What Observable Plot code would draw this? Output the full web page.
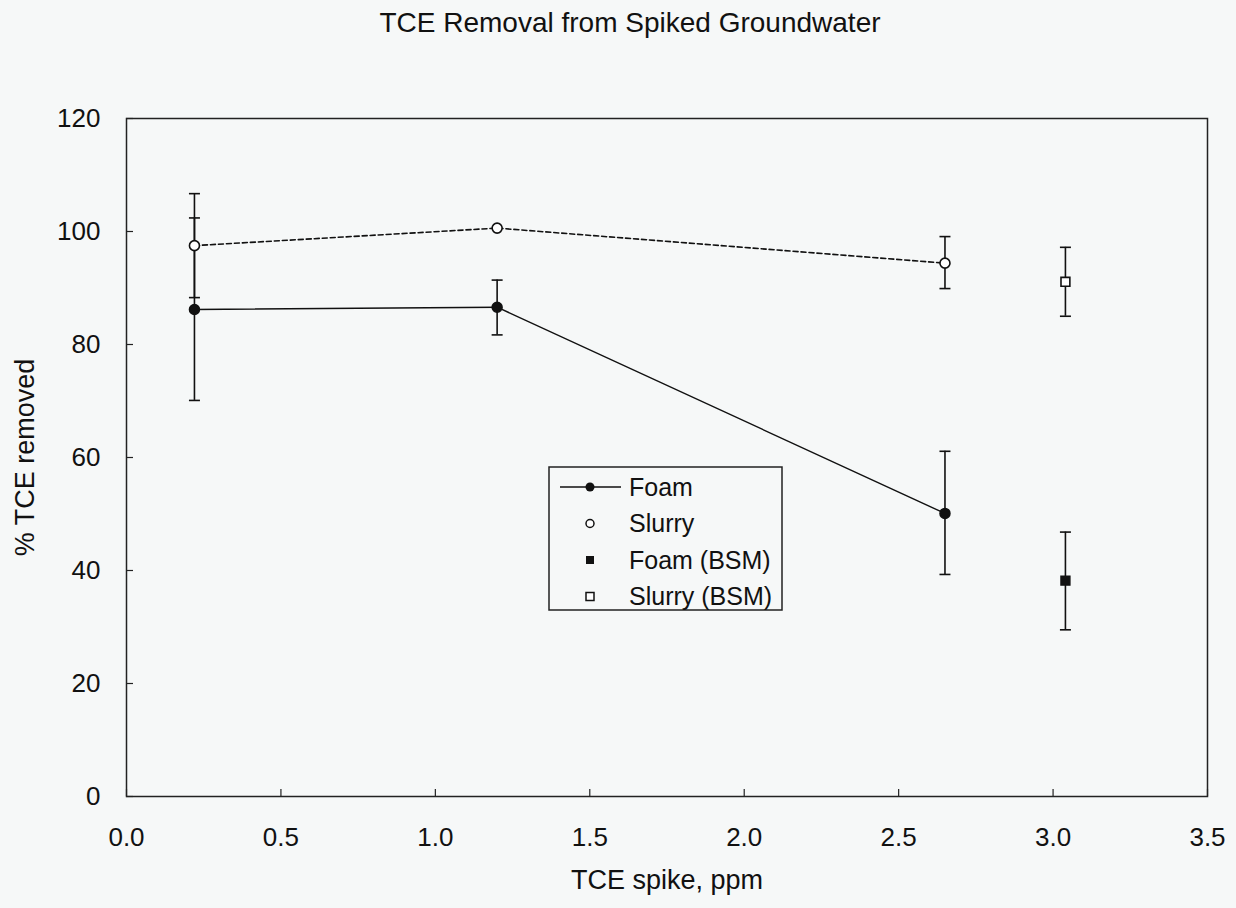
<!DOCTYPE html>
<html><head><meta charset="utf-8">
<script src="https://cdn.jsdelivr.net/npm/d3@7"></script>
<script src="https://cdn.jsdelivr.net/npm/@observablehq/plot@0.6"></script>
<style>
body{margin:0;background:#f6f8f8;font-family:"Liberation Sans",Arial,sans-serif;}
#wrap{position:relative;width:1236px;height:908px;overflow:hidden;}
#title{position:absolute;left:630px;top:9px;transform:translateX(-50%);white-space:nowrap;font-size:28px;line-height:28px;color:#111;}
#legend{position:absolute;left:548px;top:466px;}
</style></head>
<body>
<div id="wrap"><div id="title">TCE Removal from Spiked Groundwater</div><div id="chart"></div><div id="legend"></div></div>
<script>
// ---- data ----
const xLabel = "TCE spike, ppm";
const yLabel = "% TCE removed";
const xTicks = [0, 0.5, 1, 1.5, 2, 2.5, 3, 3.5];
const yTicks = [0, 20, 40, 60, 80, 100, 120];

const foamX = [0.22, 1.2, 2.65];
const foamY = [86.2, 86.6, 50.1];
const foamLo = [70.1, 81.7, 39.3];
const foamHi = [102.4, 91.4, 61.1];

const slurryX = [0.22, 1.2, 2.65];
const slurryY = [97.5, 100.6, 94.4];
const slurryLo = [88.3, null, 89.9];
const slurryHi = [106.7, null, 99.1];

const foamBsmX = [3.04];
const foamBsmY = [38.2];
const foamBsmLo = [29.5];
const foamBsmHi = [46.8];

const slurryBsmX = [3.04];
const slurryBsmY = [91.1];
const slurryBsmLo = [85.0];
const slurryBsmHi = [97.2];

const legendLabels = ["Foam", "Slurry", "Foam (BSM)", "Slurry (BSM)"];

// ---- build tables ----
const mk = (xs, ys, lo, hi) => xs.map((x, i) => ({x, y: ys[i], lo: lo[i], hi: hi[i]}));
const foam = mk(foamX, foamY, foamLo, foamHi);
const slurry = mk(slurryX, slurryY, slurryLo, slurryHi);
const foamBsm = mk(foamBsmX, foamBsmY, foamBsmLo, foamBsmHi);
const slurryBsm = mk(slurryBsmX, slurryBsmY, slurryBsmLo, slurryBsmHi);
const allErr = [...foam, ...slurry, ...foamBsm, ...slurryBsm].filter(d => d.lo != null);

const capSymbol = {draw(ctx, size) { const r = Math.sqrt(size / Math.PI); ctx.moveTo(-r, 0); ctx.lineTo(r, 0); }};

const W = 1236, H = 908, mL = 126, mR = 29, mT = 118, mB = 112;
const pw = W - mL - mR, ph = H - mT - mB;
const ink = "#111";

const chart = Plot.plot({
  width: W, height: H,
  marginLeft: mL, marginRight: mR, marginTop: mT, marginBottom: mB,
  style: {background: "transparent", fontFamily: "'Liberation Sans', Arial, sans-serif", color: ink},
  x: {domain: [0, 3.5]},
  y: {domain: [0, 120]},
  marks: [
    Plot.frame({stroke: "#222", strokeWidth: 1.5}),
    Plot.axisX({ticks: xTicks, tickFormat: d => d.toFixed(1), tickSize: 0, tickPadding: 31, fontSize: 26, label: null, fill: ink}),
    Plot.axisY({ticks: yTicks, tickFormat: d => String(d), tickSize: 0, tickPadding: 26, fontSize: 26, label: null, fill: ink}),
    Plot.tickY(yTicks, {insetRight: pw - 7, stroke: "#222", strokeWidth: 1.2}),
    Plot.tickX(xTicks, {insetTop: ph - 7, stroke: "#222", strokeWidth: 1.2}),
    Plot.text([xLabel], {frameAnchor: "bottom", dy: 92, fontSize: 27, fill: ink}),
    Plot.text([yLabel], {frameAnchor: "left", textAnchor: "middle", rotate: -90, dx: -101, fontSize: 27, fill: ink}),
    // error bars
    Plot.ruleX(allErr, {x: "x", y1: "lo", y2: "hi", stroke: ink, strokeWidth: 1.6}),
    Plot.dot(allErr, {x: "x", y: "hi", symbol: capSymbol, r: 5.5, stroke: ink, strokeWidth: 1.6}),
    Plot.dot(allErr, {x: "x", y: "lo", symbol: capSymbol, r: 5.5, stroke: ink, strokeWidth: 1.6}),
    // lines
    Plot.line(foam, {x: "x", y: "y", stroke: ink, strokeWidth: 1.4}),
    Plot.line(slurry, {x: "x", y: "y", stroke: ink, strokeWidth: 1.6, strokeDasharray: "5,3"}),
    // points
    Plot.dot(foam, {x: "x", y: "y", r: 5, fill: ink, stroke: ink}),
    Plot.dot(slurry, {x: "x", y: "y", r: 5, fill: "#fff", stroke: ink, strokeWidth: 1.6}),
    Plot.dot(foamBsm, {x: "x", y: "y", symbol: "square", r: 5, fill: ink, stroke: ink}),
    Plot.dot(slurryBsm, {x: "x", y: "y", symbol: "square", r: 5, fill: "#fff", stroke: ink, strokeWidth: 1.6})
  ]
});
document.getElementById("chart").appendChild(chart);

// ---- legend ----
const lw = 233, lh = 143;
const lg = d3.create("svg").attr("width", lw + 2).attr("height", lh + 2)
  .style("font-family", "'Liberation Sans', Arial, sans-serif");
lg.append("rect").attr("x", 1).attr("y", 1).attr("width", lw).attr("height", lh)
  .attr("fill", "#f6f8f8").attr("stroke", "#222").attr("stroke-width", 1.5);
const rowY = i => 21 + i * 36.5;
const sx = 42;
legendLabels.forEach((t, i) => {
  const y = rowY(i);
  if (i === 0) {
    lg.append("line").attr("x1", 12).attr("x2", 73).attr("y1", y).attr("y2", y).attr("stroke", ink).attr("stroke-width", 1.4);
    lg.append("circle").attr("cx", sx).attr("cy", y).attr("r", 4.5).attr("fill", ink);
  } else if (i === 1) {
    lg.append("circle").attr("cx", sx).attr("cy", y).attr("r", 4).attr("fill", "#fff").attr("stroke", ink).attr("stroke-width", 1.5);
  } else if (i === 2) {
    lg.append("rect").attr("x", sx - 4).attr("y", y - 4).attr("width", 8).attr("height", 8).attr("fill", ink);
  } else {
    lg.append("rect").attr("x", sx - 4).attr("y", y - 4).attr("width", 8).attr("height", 8).attr("fill", "#fff").attr("stroke", ink).attr("stroke-width", 1.5);
  }
  lg.append("text").attr("x", 81).attr("y", y).attr("dy", "0.35em").attr("font-size", 25).attr("fill", ink).text(t);
});
document.getElementById("legend").appendChild(lg.node());
</script>
</body></html>
